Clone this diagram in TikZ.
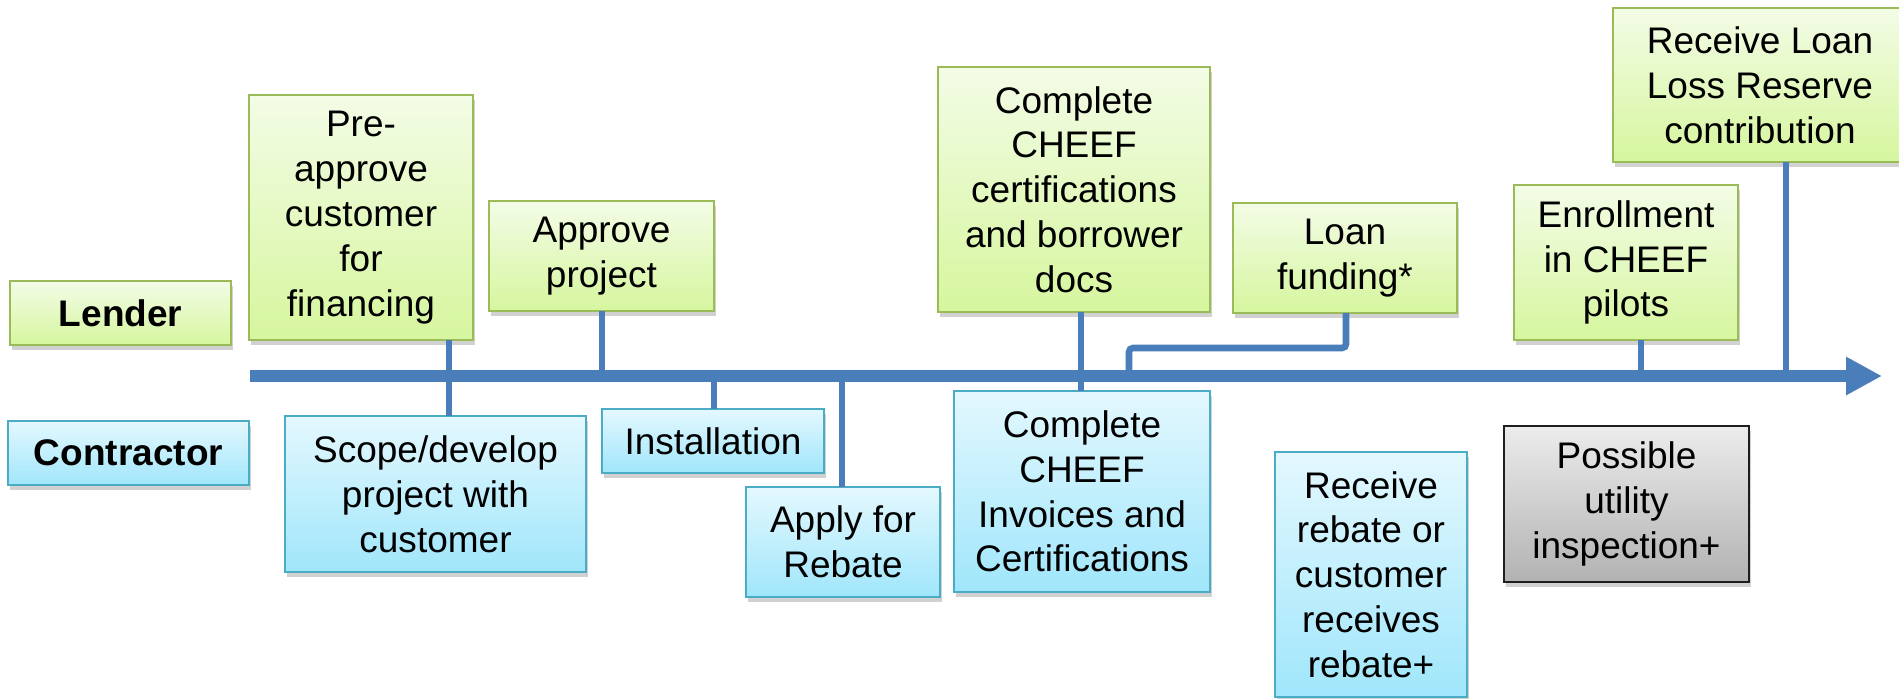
\documentclass[tikz,border=0pt]{standalone}
\usepackage{fontspec}
\setmainfont{Liberation Sans}
\usetikzlibrary{shadows,arrows.meta}

\definecolor{linkblue}{RGB}{74,126,187}
\definecolor{gtop}{RGB}{243,252,230}
\definecolor{gbot}{RGB}{214,246,158}
\definecolor{gline}{RGB}{155,187,89}
\definecolor{btop}{RGB}{228,248,254}
\definecolor{bbot}{RGB}{160,230,251}
\definecolor{bline}{RGB}{75,172,198}
\definecolor{ktop}{RGB}{236,236,236}
\definecolor{kbot}{RGB}{178,178,178}
\definecolor{kline}{RGB}{30,30,30}

\tikzset{
  box/.style={line width=1.2pt, inner sep=0pt, outer sep=0pt, align=center,
    anchor=north west,
    drop shadow={shadow xshift=1pt, shadow yshift=-2.5pt, opacity=0.3, fill=black!60}},
  gbox/.style={box, top color=gtop, bottom color=gbot, draw=gline},
  bbox/.style={box, top color=btop, bottom color=bbot, draw=bline},
  kbox/.style={box, top color=ktop, bottom color=kbot, draw=kline, line width=1.4pt},
  wh/.style 2 args={minimum width=#1*0.5pt, minimum height=#2*0.5pt},
  conn/.style={draw=linkblue, line width=3.3pt},
  timeline/.style={draw=linkblue, line width=5.8pt,
    -{Triangle[length=18pt, width=18pt]}},
}

\begin{document}
\begin{tikzpicture}[x=0.5pt, y=-0.5pt, font=\fontsize{18.5}{22.4}\selectfont]
\useasboundingbox (0,0) rectangle (1899,698);

% lane labels
\node[gbox, wh={221}{64}] (lender) at (10,281) {\bfseries Lender};
\node[bbox, wh={241}{64}] (contractor) at (8,421) {\bfseries Contractor};

% lender steps (above the timeline)
\node[gbox, wh={224}{245}] (pre) at (249,95) {Pre-\\approve\\customer\\for\\financing};
\node[gbox, wh={225}{110}] (approve) at (489,201) {Approve\\project};
\node[gbox, wh={272}{245}] (cert) at (938,67) {Complete\\CHEEF\\certifications\\and borrower\\docs};
\node[gbox, wh={224}{110}] (loan) at (1233,203) {Loan\\funding*};
\node[gbox, wh={224}{155}] (enroll) at (1514,185) {Enrollment\\in CHEEF\\pilots};
\node[gbox, wh={294}{154}] (llr) at (1613,8) {Receive Loan\\Loss Reserve\\contribution};

% contractor steps (below the timeline)
\node[bbox, wh={301}{156}] (scope) at (285,416) {Scope/develop\\project with\\customer};
\node[bbox, wh={222}{64}] (install) at (602,409) {Installation};
\node[bbox, wh={194}{110}] (apply) at (746,487) {Apply for\\Rebate};
\node[bbox, wh={256}{201}] (invoice) at (954,391) {Complete\\CHEEF\\Invoices and\\Certifications};
\node[bbox, wh={192}{245}] (rebate) at (1275,452) {Receive\\rebate or\\customer\\receives\\rebate+};
\node[kbox, wh={245}{156}] (inspect) at (1504,426) {Possible\\utility\\inspection+};

% timeline
\coordinate (tstart) at (250,376);
\coordinate (tend) at (1882,376);

% tick points on the timeline
\coordinate (tpre) at (449,376);
\coordinate (tapp) at (602,376);
\coordinate (tins) at (714,376);
\coordinate (tapl) at (842,376);
\coordinate (tcert) at (1081,376);
\coordinate (tloan) at (1129,376);
\coordinate (tenr) at (1641,376);
\coordinate (tllr) at (1786,376);
\coordinate (lbend) at (1346,348);

% connectors
\draw[conn] (pre.south -| tpre) -- (scope.north -| tpre);
\draw[conn] (approve.south -| tapp) -- (tapp);
\draw[conn] (tins) -- (install.north -| tins);
\draw[conn] (tapl) -- (apply.north -| tapl);
\draw[conn] (cert.south -| tcert) -- (invoice.north -| tcert);
\draw[conn, rounded corners=2pt] (loan.south -| lbend) -- (lbend) -- (lbend -| tloan) -- (tloan);
\draw[conn] (enroll.south -| tenr) -- (tenr);
\draw[conn] (llr.south -| tllr) -- (tllr);

\draw[timeline] (tstart) -- (tend);
\end{tikzpicture}
\end{document}
